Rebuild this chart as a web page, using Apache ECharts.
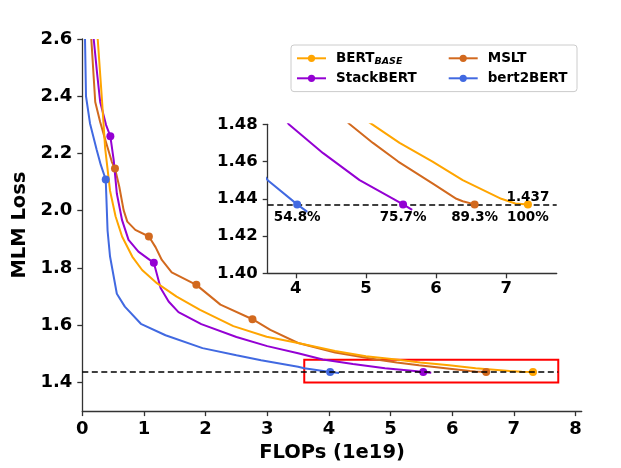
<!DOCTYPE html>
<html><head><meta charset="utf-8">
<script src="https://cdn.jsdelivr.net/npm/echarts@6/dist/echarts.min.js"></script>
<style>html,body{margin:0;padding:0;background:#fff}#c{width:621px;height:468px}</style>
</head><body><div id="c"></div>
<script>
// ---- data ----
const seriesNames = ['BERT_BASE', 'MSLT', 'StackBERT', 'bert2BERT'];
const bertBase = [[0.25,2.6],[0.315,2.4],[0.37,2.22],[0.45,2.07],[0.54,1.98],[0.645,1.91],[0.81,1.84],[0.97,1.793],[1.21,1.747],[1.53,1.70],[1.91,1.654],[2.45,1.597],[2.99,1.56],[3.5,1.538],[4.1,1.51],[4.6,1.492],[5.09,1.48],[5.48,1.47],[5.95,1.46],[6.38,1.45],[6.93,1.44],[7.13,1.4375],[7.31,1.437]];
const mslt = [[0.146,2.6],[0.21,2.38],[0.29,2.31],[0.37,2.25],[0.48,2.17],[0.53,2.148],[0.60,2.084],[0.67,2.002],[0.73,1.962],[0.86,1.933],[1.08,1.91],[1.19,1.872],[1.29,1.828],[1.45,1.785],[1.85,1.741],[2.24,1.672],[2.76,1.621],[3.05,1.584],[3.5,1.538],[4.1,1.505],[4.77,1.48],[5.10,1.47],[5.46,1.46],[5.96,1.448],[6.29,1.44],[6.38,1.4387],[6.55,1.437]];
const stackBert = [[0.185,2.6],[0.24,2.48],[0.29,2.38],[0.385,2.30],[0.455,2.26],[0.51,2.176],[0.56,2.06],[0.645,1.967],[0.75,1.898],[0.91,1.857],[1.16,1.818],[1.27,1.73],[1.40,1.683],[1.56,1.646],[1.93,1.604],[2.5,1.559],[3.0,1.527],[3.5,1.502],[3.9,1.48],[4.39,1.4645],[4.91,1.45],[5.39,1.44],[5.53,1.437],[5.66,1.434]];
const bert2Bert = [[0.044,2.6],[0.06,2.4],[0.125,2.305],[0.234,2.212],[0.30,2.16],[0.38,2.109],[0.41,1.93],[0.45,1.84],[0.56,1.71],[0.69,1.665],[0.95,1.605],[1.35,1.565],[1.95,1.52],[2.5,1.495],[2.9,1.478],[3.5,1.455],[3.6,1.450],[4.02,1.437],[4.165,1.433]];
const bertBaseMarks = [[7.31,1.437]];
const msltMarks = [[0.53,2.148],[1.08,1.91],[1.85,1.741],[2.76,1.621],[6.55,1.437]];
const stackBertMarks = [[0.455,2.26],[1.16,1.818],[5.53,1.437]];
const bert2BertMarks = [[0.38,2.109],[4.02,1.437]];
const savingLabels = ['100%', '89.3%', '75.7%', '54.8%'];
const targetLoss = 1.437;
const targetLabel = '1.437';
const xTicks = [0,1,2,3,4,5,6,7,8];
const yTicks = [1.4,1.6,1.8,2.0,2.2,2.4,2.6];
const xRange = [0, 8.1];
const yRange = [1.3, 2.6];
const zoomX = [3.6, 7.72];
const zoomY = [1.40, 1.48];
const insetXTicks = [4,5,6,7];
const insetYTicks = [1.40,1.42,1.44,1.46,1.48];

// ---- styles ----
const colors = ['#FFA500', '#D2691E', '#9400D3', '#4169E1'];
const lines = [bertBase, mslt, stackBert, bert2Bert];
const marks = [bertBaseMarks, msltMarks, stackBertMarks, bert2BertMarks];
const FF = 'DejaVu Sans';
const axisCol = '#333';

function axisCommon(fs, margin) {
  return {
    axisLine: {show: true, lineStyle: {color: axisCol, width: 1.3}},
    axisTick: {show: true, length: 5, lineStyle: {color: axisCol, width: 1.3}},
    splitLine: {show: false},
    axisLabel: {fontFamily: FF, fontWeight: 'bold', fontSize: fs, color: '#000', margin: margin}
  };
}

const xMain = Object.assign(axisCommon(18, 9), {
  type: 'value', gridIndex: 0, min: xRange[0], max: xRange[1],
  name: 'FLOPs (1e19)', nameLocation: 'middle', nameGap: 31,
  nameTextStyle: {fontFamily: FF, fontWeight: 'bold', fontSize: 19.5, color: '#000'}
});
xMain.axisTick.customValues = xTicks;
xMain.axisLabel.customValues = xTicks;
xMain.axisLabel.formatter = v => String(v);

const yMain = Object.assign(axisCommon(18, 10), {
  type: 'value', gridIndex: 0, min: yRange[0], max: yRange[1],
  name: 'MLM Loss', nameLocation: 'middle', nameGap: 52,
  nameTextStyle: {fontFamily: FF, fontWeight: 'bold', fontSize: 19.5, color: '#000'}
});
yMain.axisTick.customValues = yTicks;
yMain.axisLabel.customValues = yTicks;
yMain.axisLabel.formatter = v => v.toFixed(1);

const xIn = Object.assign(axisCommon(16.5, 7), {type: 'value', gridIndex: 1, min: zoomX[0], max: zoomX[1]});
xIn.axisTick.customValues = insetXTicks;
xIn.axisLabel.customValues = insetXTicks;
xIn.axisLabel.formatter = v => String(v);

const yIn = Object.assign(axisCommon(16.5, 10), {type: 'value', gridIndex: 1, min: zoomY[0], max: zoomY[1]});
yIn.axisTick.customValues = insetYTicks;
yIn.axisLabel.customValues = insetYTicks;
yIn.axisLabel.formatter = v => v.toFixed(2);

const series = [];
const drawOrder = [1, 2, 3, 0];
drawOrder.forEach(i => {
  series.push({
    name: seriesNames[i], type: 'line', xAxisIndex: 0, yAxisIndex: 0,
    data: lines[i], symbol: 'circle', showSymbol: false, smooth: false,
    lineStyle: {color: colors[i], width: 2}, itemStyle: {color: colors[i], opacity: 1},
    z: 3, silent: true
  });
  series.push({
    name: seriesNames[i] + ' marks', type: 'scatter', xAxisIndex: 0, yAxisIndex: 0,
    data: marks[i], symbol: 'circle', symbolSize: 8,
    itemStyle: {color: colors[i], opacity: 1}, z: 4, silent: true
  });
  series.push({
    name: seriesNames[i] + ' inset', type: 'line', xAxisIndex: 1, yAxisIndex: 1,
    data: lines[i], showSymbol: false, symbol: 'none',
    lineStyle: {color: colors[i], width: 2}, z: 3, silent: true
  });
  const last = marks[i][marks[i].length - 1];
  series.push({
    name: seriesNames[i] + ' inset marks', type: 'scatter', xAxisIndex: 1, yAxisIndex: 1,
    data: [last], symbol: 'circle', symbolSize: 8,
    itemStyle: {color: colors[i], opacity: 1}, z: 5, silent: true,
    label: {show: true, position: 'bottom', distance: 2, formatter: savingLabels[i],
      fontFamily: FF, fontWeight: 'bold', fontSize: 13.5, color: '#000', opacity: 1}
  });
});
// value label above target point
series.push({
  name: 'target label', type: 'scatter', xAxisIndex: 1, yAxisIndex: 1,
  data: [bertBaseMarks[0]], symbolSize: 0.1, itemStyle: {color: 'rgba(0,0,0,0)', opacity: 1}, z: 6, silent: true,
  label: {show: true, position: 'top', distance: 0, formatter: targetLabel,
    fontFamily: FF, fontWeight: 'bold', fontSize: 13.5, color: '#000', opacity: 1}
});
// dashed target lines + red zoom box
series.push({
  name: 'ref main', type: 'line', xAxisIndex: 0, yAxisIndex: 0, data: [], silent: true,
  markLine: {silent: true, symbol: 'none', label: {show: false},
    lineStyle: {color: '#000', type: [6, 3.5], width: 1.7},
    data: [[{coord: [xRange[0], targetLoss]}, {coord: [zoomX[1], targetLoss]}]]},
  markArea: {silent: true, itemStyle: {color: 'rgba(0,0,0,0)', borderColor: '#FF0000', borderWidth: 2},
    data: [[{coord: [zoomX[0], zoomY[0]]}, {coord: [zoomX[1], 1.479]}]]},
  z: 2
});
series.push({
  name: 'ref inset', type: 'line', xAxisIndex: 1, yAxisIndex: 1, data: [], silent: true,
  markLine: {silent: true, symbol: 'none', label: {show: false},
    lineStyle: {color: '#000', type: [6, 3.5], width: 1.7},
    data: [[{coord: [zoomX[0], targetLoss]}, {coord: [zoomX[1], targetLoss]}]]},
  z: 2
});

const chart = echarts.init(document.getElementById('c'), null, {renderer: 'canvas'});
chart.setOption({
  animation: false,
  backgroundColor: '#fff',
  grid: [
    {left: 82.3, top: 39, right: 39.3, bottom: 56.3, containLabel: false},
    {left: 267.7, top: 124.3, right: 64.3, bottom: 194.7, containLabel: false}
  ],
  xAxis: [xMain, xIn],
  yAxis: [yMain, yIn],
  legend: {
    left: 291, top: 45, width: 278,
    padding: [5.3, 5, 5.3, 5],
    itemGap: 4, itemWidth: 29, itemHeight: 9,
    borderColor: '#ccc', borderWidth: 1, borderRadius: 3, backgroundColor: '#fff',
    selectedMode: false,
    data: [
      {name: seriesNames[0], textStyle: {width: 107.7}},
      {name: seriesNames[1], textStyle: {width: 84.3}},
      {name: seriesNames[2], textStyle: {width: 107.7}},
      {name: seriesNames[3], textStyle: {width: 84.3}}
    ],
    textStyle: {fontFamily: FF, fontWeight: 'bold', fontSize: 13.5, color: '#000', lineHeight: 16,
      padding: [0, 0, 0, 5],
      rich: {
        a: {fontFamily: FF, fontWeight: 'bold', fontSize: 13.5, color: '#000', lineHeight: 16},
        b: {fontFamily: FF, fontWeight: 'bold', fontStyle: 'italic', fontSize: 9.5, color: '#000', lineHeight: 16, padding: [6, 0, 0, 0]}
      }
    },
    formatter: n => n === 'BERT_BASE' ? '{a|BERT}{b|BASE}' : '{a|' + n + '}'
  },
  series: series
});
</script>
</body></html>
